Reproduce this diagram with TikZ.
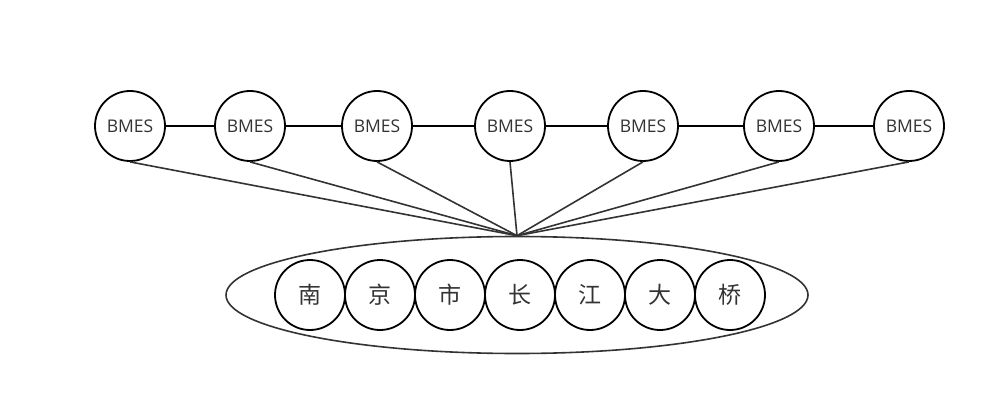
\documentclass[tikz,border=0pt]{standalone}
\usepackage{fontspec}
\setmainfont{Open Sans}
\newfontfamily\cjk{Noto Sans CJK SC}
\usetikzlibrary{shapes.geometric}
\begin{document}
\begin{tikzpicture}[x=1pt,y=-1pt,
  bmes/.style={circle,draw=black,line width=1.8pt,minimum size=70pt,inner sep=0pt,text=black!80,font=\fontsize{17.5}{20}\selectfont},
  ch/.style={circle,draw=black,line width=1.8pt,minimum size=70pt,inner sep=0pt,text=black!80,font=\cjk\fontsize{23}{26}\selectfont},
  link/.style={line width=1.6pt,draw=black},
  fan/.style={line width=1.6pt,draw=black!80}]
\useasboundingbox (0,0) rectangle (1006,414);
\node[ellipse,draw=black!80,line width=1.6pt,minimum width=582pt,minimum height=117pt,inner sep=0pt] (ell) at (517,295) {};
\foreach \x/\n in {130/b1,250/b2,377/b3,510/b4,643/b5,779/b6,909/b7}
  \node[bmes] (\n) at (\x,126) {BMES};
\foreach \x/\n/\t in {310/c1/南,380/c2/京,450/c3/市,520/c4/长,590/c5/江,660/c6/大,730/c7/桥}
  \node[ch] (\n) at (\x,295) {\t};
\foreach \a/\b in {b1/b2,b2/b3,b3/b4,b4/b5,b5/b6,b6/b7}
  \draw[link] (\a) -- (\b);
\foreach \n in {b1,b2,b3,b4,b5,b6,b7}
  \draw[fan] (\n.south) -- (ell.north);
\end{tikzpicture}
\end{document}
